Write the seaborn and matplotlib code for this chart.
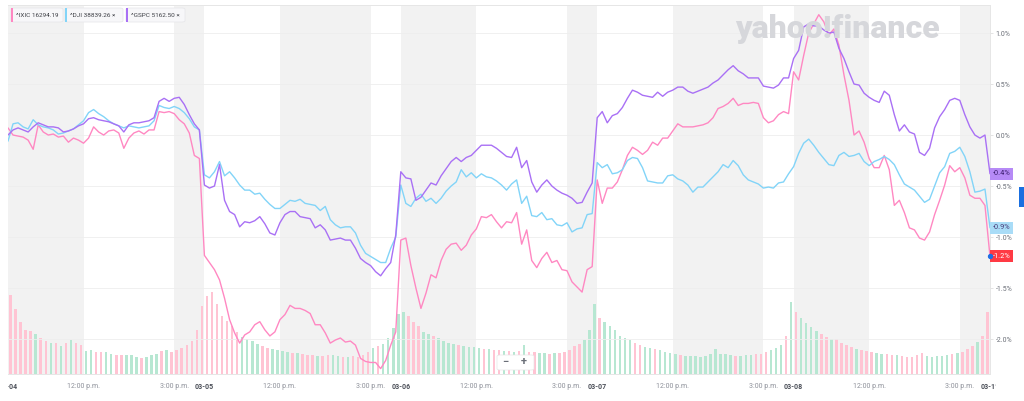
import numpy as np
import pandas as pd
import seaborn as sns
import matplotlib.pyplot as plt
from matplotlib.patches import FancyBboxPatch, Rectangle
import matplotlib.transforms as mtransforms

# --- data (percent change, 10-minute samples, 5 sessions) ---
dates = ["03-04", "03-05", "03-06", "03-07", "03-08", "03-11"]
symbols = ["^IXIC 16294.19", "^DJI 38839.26", "^GSPC 5162.50"]
end_labels = ["-1.2%", "-0.9%", "-0.4%"]

ixic = [0.07, 0.00, -0.01, -0.02, -0.05, -0.14, 0.10, 0.03, 0.00, 0.01,
        -0.02, -0.01, -0.07, -0.03, -0.05, -0.08, -0.03, 0.08, 0.03, 0.00,
        0.04, 0.05, 0.02, -0.13, -0.03, 0.02, 0.04, 0.01, 0.05, 0.05,
        0.23, 0.22, 0.23, 0.21, 0.15, 0.11, 0.02, -0.20, -0.23,
        -1.18, -1.25, -1.32, -1.42, -1.60, -1.81, -1.94, -2.04, -1.96, -1.93,
        -1.86, -1.83, -1.91, -1.97, -1.93, -1.81, -1.76, -1.67, -1.70, -1.70,
        -1.72, -1.75, -1.86, -1.86, -1.94, -2.04, -2.01, -1.99, -2.03, -2.02,
        -2.06, -2.19, -2.22, -2.23, -2.23, -2.29, -2.21, -2.06, -1.93,
        -1.03, -1.01, -1.28, -1.50, -1.70, -1.55, -1.37, -1.40, -1.23, -1.12,
        -1.07, -1.06, -1.13, -1.08, -0.98, -0.92, -0.80, -0.81, -0.78, -0.85,
        -0.91, -0.85, -0.86, -0.76, -1.07, -0.93, -1.23, -1.30, -1.21, -1.15,
        -1.25, -1.23, -1.32, -1.33, -1.44, -1.49, -1.54, -1.32, -1.29,
        -0.44, -0.67, -0.52, -0.52, -0.46, -0.34, -0.20, -0.12, -0.15, -0.19,
        -0.15, -0.07, -0.10, -0.03, -0.03, 0.04, 0.11, 0.08, 0.08, 0.08,
        0.09, 0.10, 0.12, 0.17, 0.26, 0.28, 0.31, 0.36, 0.29, 0.31,
        0.31, 0.32, 0.31, 0.17, 0.12, 0.14, 0.20, 0.23, 0.21,
        0.62, 0.54, 0.78, 1.00, 1.09, 1.18, 1.11, 0.98, 1.04, 0.88,
        0.59, 0.34, 0.00, 0.04, -0.07, -0.23, -0.32, -0.32, -0.20, -0.34,
        -0.69, -0.64, -0.76, -0.91, -0.93, -1.01, -1.03, -0.95, -0.78, -0.64,
        -0.49, -0.30, -0.36, -0.32, -0.42, -0.59, -0.62, -0.62, -0.69, -1.19]

dji = [-0.06, 0.11, 0.12, 0.08, 0.06, 0.15, 0.10, 0.08, 0.07, 0.05,
       0.01, 0.02, 0.04, 0.06, 0.10, 0.14, 0.22, 0.25, 0.21, 0.18,
       0.14, 0.11, 0.09, 0.07, 0.09, 0.08, 0.07, 0.08, 0.09, 0.14,
       0.29, 0.27, 0.26, 0.28, 0.26, 0.22, 0.16, 0.08, 0.05,
       -0.39, -0.42, -0.36, -0.26, -0.40, -0.36, -0.42, -0.49, -0.54, -0.54,
       -0.58, -0.57, -0.63, -0.68, -0.72, -0.72, -0.68, -0.64, -0.65, -0.63,
       -0.67, -0.68, -0.69, -0.74, -0.70, -0.83, -0.88, -0.91, -0.90, -0.90,
       -0.96, -1.08, -1.16, -1.19, -1.22, -1.25, -1.25, -1.11, -1.00,
       -0.49, -0.67, -0.70, -0.62, -0.58, -0.65, -0.62, -0.67, -0.62, -0.55,
       -0.50, -0.46, -0.34, -0.41, -0.37, -0.42, -0.38, -0.41, -0.42, -0.45,
       -0.49, -0.54, -0.48, -0.44, -0.67, -0.60, -0.79, -0.80, -0.76, -0.83,
       -0.82, -0.88, -0.89, -0.86, -0.95, -0.92, -0.91, -0.78, -0.77,
       -0.27, -0.32, -0.29, -0.38, -0.37, -0.34, -0.25, -0.22, -0.23, -0.32,
       -0.45, -0.46, -0.47, -0.47, -0.40, -0.39, -0.43, -0.45, -0.49, -0.56,
       -0.51, -0.51, -0.46, -0.41, -0.36, -0.29, -0.32, -0.25, -0.30, -0.39,
       -0.44, -0.46, -0.48, -0.52, -0.51, -0.52, -0.47, -0.46, -0.38,
       -0.31, -0.18, -0.08, -0.04, -0.10, -0.17, -0.23, -0.29, -0.30, -0.20,
       -0.17, -0.21, -0.20, -0.18, -0.26, -0.30, -0.26, -0.24, -0.21, -0.24,
       -0.29, -0.39, -0.48, -0.51, -0.54, -0.60, -0.66, -0.63, -0.50, -0.37,
       -0.31, -0.18, -0.16, -0.12, -0.21, -0.36, -0.56, -0.55, -0.53, -0.91]

gspc = [0.00, 0.05, 0.07, 0.05, 0.03, 0.08, 0.12, 0.10, 0.08, 0.08,
        0.07, 0.03, 0.04, 0.06, 0.09, 0.11, 0.16, 0.17, 0.15, 0.14,
        0.13, 0.11, 0.09, 0.03, 0.10, 0.12, 0.12, 0.13, 0.14, 0.17,
        0.33, 0.36, 0.33, 0.36, 0.37, 0.30, 0.20, 0.11, 0.05,
        -0.49, -0.52, -0.50, -0.29, -0.64, -0.75, -0.78, -0.90, -0.85, -0.86,
        -0.84, -0.80, -0.87, -0.96, -0.98, -0.86, -0.78, -0.75, -0.75, -0.80,
        -0.81, -0.82, -0.91, -0.88, -0.93, -1.03, -1.02, -1.01, -1.03, -1.03,
        -1.11, -1.21, -1.25, -1.28, -1.34, -1.38, -1.31, -1.25, -0.98,
        -0.36, -0.42, -0.43, -0.64, -0.61, -0.54, -0.47, -0.49, -0.40, -0.33,
        -0.26, -0.22, -0.26, -0.22, -0.20, -0.15, -0.10, -0.10, -0.10, -0.13,
        -0.17, -0.21, -0.22, -0.12, -0.32, -0.25, -0.46, -0.56, -0.49, -0.44,
        -0.50, -0.54, -0.57, -0.59, -0.62, -0.67, -0.66, -0.56, -0.47,
        0.17, 0.23, 0.12, 0.19, 0.21, 0.27, 0.36, 0.44, 0.42, 0.39,
        0.38, 0.37, 0.42, 0.38, 0.42, 0.44, 0.47, 0.47, 0.43, 0.41,
        0.43, 0.45, 0.47, 0.51, 0.54, 0.59, 0.64, 0.68, 0.63, 0.60,
        0.56, 0.56, 0.56, 0.48, 0.47, 0.46, 0.49, 0.56, 0.56,
        0.75, 0.83, 1.06, 1.09, 1.07, 1.07, 1.03, 1.00, 1.01, 0.85,
        0.75, 0.62, 0.50, 0.49, 0.41, 0.37, 0.34, 0.32, 0.43, 0.39,
        0.20, 0.04, 0.10, 0.03, 0.01, -0.17, -0.20, -0.13, 0.07, 0.18,
        0.25, 0.34, 0.36, 0.34, 0.20, 0.08, 0.00, -0.03, 0.00, -0.38]

# volume per 10-minute bar (relative units)
volume = [79, 65, 52, 44, 43, 40, 36, 33, 31, 31, 28, 31, 34, 31, 29, 23, 24, 22, 22, 22,
          20, 19, 19, 19, 19, 17, 16, 17, 19, 20, 23, 24, 22, 24, 26, 29, 33, 44, 68,
          78, 82, 70, 58, 53, 48, 42, 37, 35, 33, 30, 28, 26, 25, 24, 23, 22, 21, 21, 20,
          19, 19, 18, 18, 19, 19, 18, 17, 17, 18, 17, 19, 22, 26, 28, 30, 36, 46, 60,
          62, 58, 52, 48, 42, 40, 38, 36, 33, 31, 30, 29, 28, 27, 27, 26, 25, 25, 24, 24,
          23, 23, 22, 23, 29, 22, 22, 21, 21, 20, 21, 21, 22, 24, 28, 30, 34, 44, 70,
          56, 52, 48, 44, 38, 36, 34, 31, 29, 27, 26, 25, 24, 22, 21, 20, 19, 18, 18, 18,
          17, 18, 20, 25, 20, 20, 19, 18, 18, 19, 19, 20, 20, 22, 24, 26, 29, 38, 72,
          62, 56, 51, 47, 43, 40, 37, 35, 35, 31, 29, 27, 25, 24, 23, 22, 21, 20, 20, 19,
          19, 18, 17, 17, 19, 21, 18, 17, 18, 18, 19, 20, 21, 22, 25, 28, 32, 38, 62]

step = 10        # minutes per sample
session = 390    # 9:30 - 16:00
colors = ["#ff88c2", "#82d4f8", "#a970f5"]

t = np.arange(len(ixic)) * step
df = pd.DataFrame({
    "t": np.tile(t, 3),
    "pct": ixic + dji + gspc,
    "symbol": np.repeat(symbols, len(t)),
})

sns.set_theme(style="white")
plt.rcParams["font.family"] = ["Roboto", "DejaVu Sans"]

W, H = 1024, 401
fig = plt.figure(figsize=(W / 100, H / 100), dpi=100)
vax = fig.add_axes([8 / W, 1 - 374 / H, 982 / W, 369 / H])
ax = vax.twinx()

# session shading: 9:30-12:00, 12:00-15:00, 15:00-16:00 alternate
k = 0
for d in range(5):
    for a, b in [(0, 150), (150, 330), (330, 390)]:
        if k % 2 == 0:
            vax.axvspan(d * session + a, d * session + b, color="#f2f2f2", lw=0, zorder=0)
        k += 1

# volume bars, coloured by direction of ^IXIC
up = [ixic[i + 1] >= ixic[i] for i in range(len(volume))]
bar_cols = ["#b7e7d2" if u else "#ffc4d3" for u in up]
vax.bar(t[:len(volume)] + step / 2, volume, width=step * 0.5, color=bar_cols, lw=0, zorder=1)
vax.set_ylim(0, 369)
vax.set_yticks([])

sns.lineplot(data=df, x="t", y="pct", hue="symbol", palette=colors, linewidth=1.0,
             legend=False, ax=ax, zorder=3)
ax.set_ylim(-2.343, 1.275)
ax.set_xlim(0, 5 * session)
ax.set_xlabel("")
ax.set_ylabel("")
yt = [1.0, 0.5, 0.0, -0.5, -1.0, -1.5, -2.0]
ax.set_yticks(yt)
ax.set_yticklabels([f"{v:.1f}%" for v in yt], fontsize=5, color="#6b6f78")
ax.tick_params(axis="y", length=2, width=0.5, color="#d9d9d9", pad=2)
for v in yt:
    ax.axhline(v, color="#eeeeee", lw=0.6, zorder=1)

# x ticks
ticks, labels = [], []
for d in range(5):
    ticks += [d * session, d * session + 150, d * session + 330]
    labels += [dates[d], "12:00 p.m.", "3:00 p.m."]
ticks.append(5 * session)
labels.append(dates[5])
vax.set_xlim(0, 5 * session)
vax.set_xticks(ticks)
vax.set_xticklabels(labels, fontsize=5, color="#8d9099")
vax.tick_params(axis="x", length=2.5, width=0.5, color="#d9d9d9", pad=4)
edge_clip = mtransforms.Bbox.from_extents(8, 0, 996, H)
for lab in vax.get_xticklabels():
    if lab.get_text() in dates:
        lab.set_fontweight("bold")
        lab.set_color("#4b4f58")
    lab.set_clip_box(edge_clip)
    lab.set_clip_on(True)

for a in (ax, vax):
    a.spines["left"].set_visible(False)
    for s in ["top", "bottom", "right"]:
        a.spines[s].set_color("#e6e6e6")
        a.spines[s].set_linewidth(0.7)

# end-of-line value labels
trans = mtransforms.blended_transform_factory(ax.transAxes, ax.transData)
ends = [ixic[-1], dji[-1], gspc[-1]]
box_cols = ["#ff3a44", "#a9dcf7", "#b68af6"]
txt_cols = ["white", "#4b3b78", "#3b1d6e"]
for lab, y, bc, tc in zip(end_labels, ends, box_cols, txt_cols):
    ax.text(1.003, y, lab, transform=trans, ha="left", va="center", fontsize=5.3,
            color=tc, clip_on=False, zorder=6,
            bbox=dict(boxstyle="square,pad=0.35", fc=bc, ec="none"))
ax.scatter([5 * session], [ixic[-1]], s=8, color="#1f6fe5", zorder=7, clip_on=False)


def px(x, y):
    return x / W, 1 - y / H


# symbol chips
chips = [(11, 63, symbols[0], colors[0], ""), (65, 123, symbols[1], colors[1], " ×"),
         (126, 185, symbols[2], colors[2], " ×")]
for x0, x1, name, c, close in chips:
    fig.patches.append(FancyBboxPatch(px(x0, 22), (x1 - x0) / W, 14 / H,
                                      boxstyle="round,pad=0,rounding_size=0.003",
                                      transform=fig.transFigure, fc="#f7f7f9", ec="#e4e4e8", lw=0.5))
    fig.patches.append(Rectangle(px(x0, 22), 2 / W, 14 / H, transform=fig.transFigure,
                                 fc=c, ec="none"))
    fig.text(*px(x0 + 5, 15.5), name + close, fontsize=4.6, color="#3d3f45",
             va="center", ha="left")

# watermark
fig.text(*px(735, 38), "yahoo!finance", fontsize=23, fontweight="heavy",
         color="#d6d7db", ha="left", va="baseline", zorder=0)

# zoom buttons
fig.patches.append(FancyBboxPatch(px(497, 370), 37 / W, 15 / H,
                                  boxstyle="round,pad=0,rounding_size=0.003",
                                  transform=fig.transFigure, fc="white", ec="#e6e6e6", lw=0.5))
fig.text(*px(505, 362), "−", fontsize=8, fontweight="bold", color="#6b6f78", ha="center", va="center")
fig.text(*px(524, 362), "+", fontsize=8, fontweight="bold", color="#6b6f78", ha="center", va="center")

# blue side tab
fig.patches.append(Rectangle(px(1019, 207), 6 / W, 20 / H, transform=fig.transFigure,
                             fc="#1a6fe0", ec="none"))

fig.savefig("out.png", dpi=100)
